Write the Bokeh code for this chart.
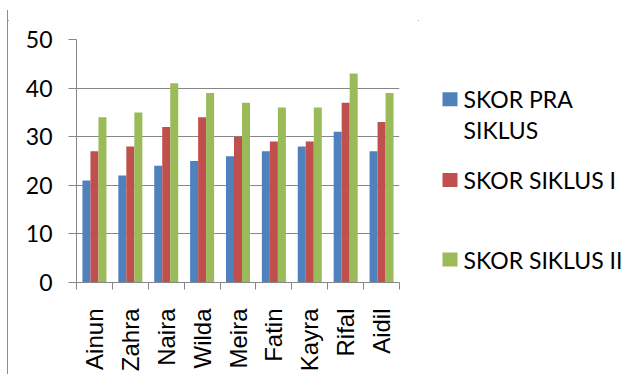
from bokeh.plotting import figure
from bokeh.models import (ColumnDataSource, Range1d, FixedTicker, CustomJSTickFormatter,
                          Row, Column, Div)
from bokeh.transform import dodge
from bokeh.core.properties import value
from bokeh.embed import file_html
from bokeh.resources import INLINE
import math

# ---- data ----
names = ["Ainun", "Zahra", "Naira", "Wilda", "Meira", "Fatin", "Kayra", "Rifal", "Aidil"]
skor_pra = [21, 22, 24, 25, 26, 27, 28, 31, 27]
skor_siklus1 = [27, 28, 32, 34, 30, 29, 29, 37, 33]
skor_siklus2 = [34, 35, 41, 39, 37, 36, 36, 43, 39]
series_labels = ["SKOR PRA\nSIKLUS", "SKOR SIKLUS I", "SKOR SIKLUS II"]
colors = ["#4F81BD", "#C0504D", "#9BBB59"]
y_ticks = [0, 10, 20, 30, 40, 50]

n = len(names)
src = ColumnDataSource(dict(
    xc=[i + 0.5 for i in range(n)],
    pra=skor_pra, s1=skor_siklus1, s2=skor_siklus2,
))

GRAY = "#868686"
BORDER = "#8c8c8c"
BW = 0.223
OX, OY = 8, 10          # where the chart area starts (inside its border)
H = 374 - OY
TOP, BOT = 39, 283      # frame top / bottom on the page
W1 = 418 - OX

p = figure(width=W1, height=H, output_backend="svg", toolbar_location=None,
           x_range=Range1d(0, n), y_range=Range1d(0, 50),
           min_border_left=76 - OX, min_border_right=19, min_border_top=TOP - OY,
           min_border_bottom=374 - BOT)
p.outline_line_color = None
p.background_fill_color = "white"
p.border_fill_color = "white"

for field, off, col in [("pra", -BW, colors[0]), ("s1", 0, colors[1]), ("s2", BW, colors[2])]:
    p.vbar(x=dodge("xc", off, range=p.x_range), top=field, width=BW, bottom=0,
           source=src, fill_color=col, line_color=None)

# y axis
p.yaxis.ticker = FixedTicker(ticks=y_ticks, minor_ticks=[])
p.yaxis.axis_line_color = GRAY
p.yaxis.major_tick_line_color = GRAY
p.yaxis.major_tick_out = 8
p.yaxis.major_tick_in = 0
p.yaxis.minor_tick_line_color = None
p.yaxis.major_label_text_font = "Lato"
p.yaxis.major_label_text_font_size = "23px"
p.yaxis.major_label_text_color = "black"
p.yaxis.major_label_standoff = 16
p.ygrid.ticker = FixedTicker(ticks=y_ticks)
p.ygrid.grid_line_color = GRAY
p.ygrid.grid_line_width = 1
p.xgrid.grid_line_color = None

# x axis
p.xaxis.ticker = FixedTicker(ticks=[i + 0.5 for i in range(n)],
                             minor_ticks=list(range(n + 1)))
p.xaxis.formatter = CustomJSTickFormatter(args=dict(names=names),
                                          code="return names[Math.floor(tick)] || '';")
p.xaxis.axis_line_color = GRAY
p.xaxis.major_tick_line_color = None
p.xaxis.major_tick_out = 0
p.xaxis.major_tick_in = 0
p.xaxis.minor_tick_line_color = GRAY
p.xaxis.minor_tick_out = 7
p.xaxis.minor_tick_in = 0
p.xaxis.major_label_orientation = math.pi / 2
p.xaxis.major_label_text_font = "Liberation Sans"
p.xaxis.major_label_text_font_size = "24px"
p.xaxis.major_label_text_color = "black"
p.xaxis.major_label_standoff = 19

# legend panel: frame aligned with chart frame, data units = page pixels
lg = figure(width=641 - OX - W1, height=H, output_backend="svg", toolbar_location=None,
            x_range=Range1d(OX + W1, 641), y_range=Range1d(BOT, TOP),
            x_axis_type=None, y_axis_type=None,
            min_border_left=0, min_border_right=0, min_border_top=TOP - OY,
            min_border_bottom=374 - BOT)
lg.outline_line_color = None
lg.xgrid.visible = False
lg.ygrid.visible = False
lg.border_fill_color = "white"

item_y = [99, 180, 260]
lg.rect(x=[449.5] * 3, y=item_y, width=15, height=14, fill_color=colors, line_color=None)
txt_x, txt_y, txt = [], [], []
for yy, lab in zip(item_y, series_labels):
    for k, line in enumerate(lab.split("\n")):
        txt_x.append(463)
        txt_y.append(yy + 31 * k)
        txt.append(line)
lg.text(x=txt_x, y=txt_y, text=txt, text_font=value("Lato"), text_font_size="23px",
        text_color="black", text_baseline="middle", text_align="left")

# chart-area border: left and top edges (right/bottom run off the page)
top_gap = Div(text="", width=641, height=OY - 1, margin=0)
top_line = Div(text=f"<div style='margin-left:{OX - 1}px;width:{641 - OX + 1}px;"
                    f"height:1px;background:{BORDER}'></div>",
               width=641, height=1, margin=0)
left_line = Div(text=f"<div style='margin-left:{OX - 1}px;width:1px;height:{H}px;"
                     f"background:{BORDER}'></div>",
                width=OX, height=H, margin=0)

layout = Column(top_gap, top_line, Row(left_line, p, lg))

open("out.html", "w").write(file_html(layout, INLINE))
